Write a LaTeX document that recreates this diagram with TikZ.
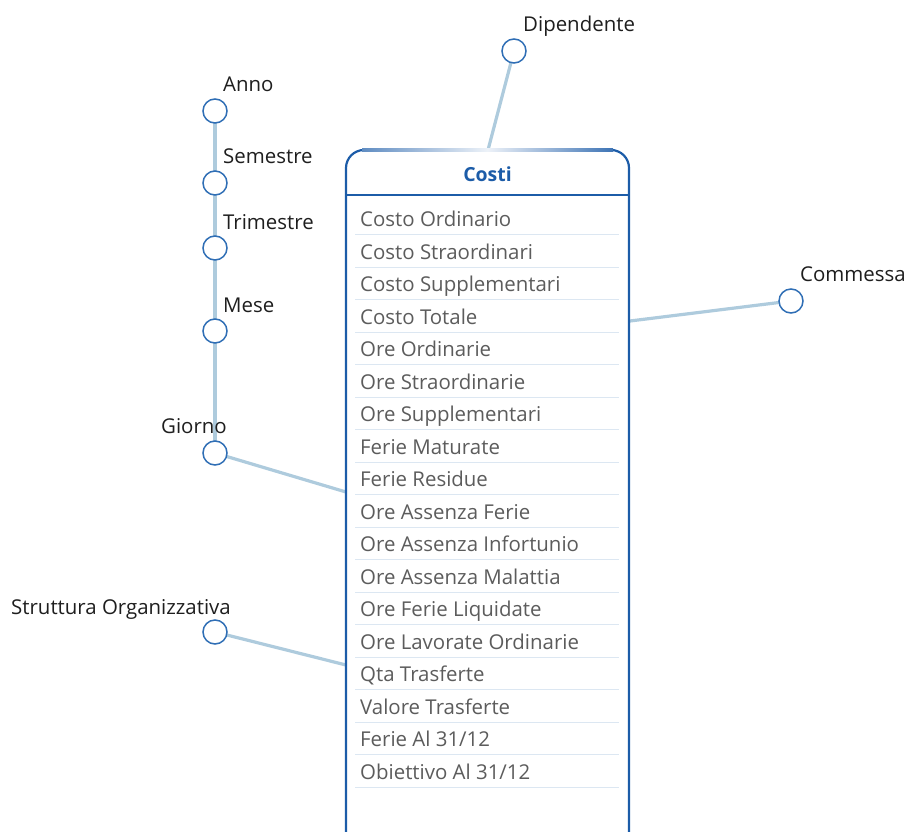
\documentclass[tikz,border=0pt]{standalone}
\usepackage{fontspec}
\setmainfont{Open Sans}
\definecolor{ringblue}{HTML}{2F6EB5}
\definecolor{linkblue}{HTML}{AECBDD}
\definecolor{boxblue}{HTML}{1C5CA8}
\definecolor{rowgray}{HTML}{5C5C5C}
\definecolor{sepblue}{HTML}{DCE7F2}
\definecolor{labelblack}{HTML}{1E1E1E}
\tikzset{
  dimnode/.style={circle, draw=ringblue, line width=1.5pt, fill=white, minimum size=24bp, inner sep=0pt},
  dimlabel/.style={font=\fontsize{20.5}{24}\selectfont, text=labelblack, inner sep=0pt},
  link/.style={draw=linkblue, line width=3.2bp},
  rowtext/.style={font=\fontsize{20.5}{24}\selectfont, text=rowgray, anchor=base west, inner sep=0pt},
  sepline/.style={draw=sepblue, line width=1bp},
}
\begin{document}
\begin{tikzpicture}[x=1bp,y=-1bp]
\useasboundingbox (0,0) rectangle (905,832);
% anchor coordinates on the box
\coordinate (kdip) at (488,150);
\coordinate (kcom) at (630,321);
\coordinate (kgio) at (346,492);
\coordinate (kstr) at (346,665);
% dimension circles (positions)
\coordinate (anno) at (215,111);
\coordinate (semestre) at (215,183);
\coordinate (trimestre) at (215,248);
\coordinate (mese) at (215,331);
\coordinate (giorno) at (215,453);
\coordinate (struttura) at (215,632);
\coordinate (dipendente) at (514,51);
\coordinate (commessa) at (791,301);
% connectors
\path[link] (anno) -- (semestre) -- (trimestre) -- (mese) -- (giorno);
\path[link] (giorno) -- (kgio);
\path[link] (struttura) -- (kstr);
\path[link] (dipendente) -- (kdip);
\path[link] (commessa) -- (kcom);
% circles on top
\foreach \n in {anno,semestre,trimestre,mese,giorno,struttura,dipendente,commessa}
  \node[dimnode] (c\n) at (\n) {};
% labels
\node[dimlabel, anchor=base west] (lanno) at (223,91) {Anno};
\node[dimlabel, anchor=base west] (lsem) at (223,163) {Semestre};
\node[dimlabel, anchor=base west] (ltri) at (223,229) {Trimestre};
\node[dimlabel, anchor=base west] (lmese) at (223,312) {Mese};
\node[dimlabel, anchor=base] (lgio) at (194,433) {Giorno};
\node[dimlabel, anchor=base east] (lstr) at (231,614) {Struttura Organizzativa};
\node[dimlabel, anchor=base west] (ldip) at (523,31) {Dipendente};
\node[dimlabel, anchor=base west] (lcom) at (800,281) {Commessa};
% fact box
\draw[boxblue, line width=2.2bp, rounded corners=18bp, fill=white] (346,150) rectangle (629,850);
\shade[left color=boxblue!70, right color=boxblue!85, middle color=boxblue!8] (362,148.9) rectangle (613,151.1);
\node[font=\bfseries\fontsize{19.5}{23}\selectfont, text=boxblue, anchor=base] (costi) at (487.5,181) {Costi};
\draw[boxblue, line width=1.3bp] (346,195) -- (629,195);
\foreach \t [count=\i from 0] in {Costo Ordinario,Costo Straordinari,Costo Supplementari,Costo Totale,Ore Ordinarie,Ore Straordinarie,Ore Supplementari,Ferie Maturate,Ferie Residue,Ore Assenza Ferie,Ore Assenza Infortunio,Ore Assenza Malattia,Ore Ferie Liquidate,Ore Lavorate Ordinarie,Qta Trasferte,Valore Trasferte,Ferie Al 31/12,Obiettivo Al 31/12}{
  \node[rowtext] (row\i) at (360,226.5+32.53*\i) {\t};
  \draw[sepline] (355,234.5+32.53*\i) -- (619,234.5+32.53*\i);
}
\end{tikzpicture}
\end{document}
